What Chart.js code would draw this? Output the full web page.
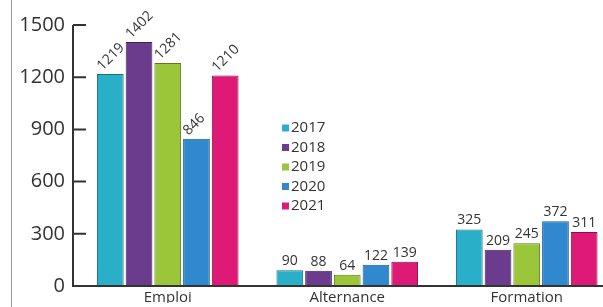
<!DOCTYPE html>
<html>
<head>
<meta charset="utf-8">
<script src="https://cdn.jsdelivr.net/npm/chart.js@4/dist/chart.umd.min.js"></script>
<style>
  html, body { margin: 0; padding: 0; background: #fff; overflow: hidden; }
  #wrap { position: relative; width: 603px; height: 307px; overflow: hidden; }
  #edge { position: absolute; left: 11px; top: 0; width: 1px; height: 307px; background: #9a9a9a; }
  canvas { position: absolute; left: 0; top: 0; }
</style>
</head>
<body>
<div id="wrap">
  <canvas id="chart" width="620" height="311"></canvas>
  <div id="edge"></div>
</div>
<script>
const categories = ['Emploi', 'Alternance', 'Formation'];
const years = ['2017', '2018', '2019', '2020', '2021'];
const values2017 = [1219, 90, 325];
const values2018 = [1402, 88, 209];
const values2019 = [1281, 64, 245];
const values2020 = [846, 122, 372];
const values2021 = [1210, 139, 311];
const yTicks = [0, 300, 600, 900, 1200, 1500];

const colors = ['#2aafc8', '#6b3b8e', '#9cc63a', '#3089cf', '#df1a76'];
const borders = ['#1d6f80', '#3e2254', '#5b7a20', '#1c5585', '#8a0f47'];
const series = [values2017, values2018, values2019, values2020, values2021];

const textColor = '#333';
const fontFamily = '"Open Sans", "Noto Sans", sans-serif';

// axes, inward ticks, bar values and the legend
const decorations = {
  id: 'decorations',
  afterDatasetsDraw(chart) {
    const ctx = chart.ctx;
    const y = chart.scales.y;
    const axisX = 73;
    ctx.save();
    ctx.strokeStyle = '#333';
    ctx.lineWidth = 2;
    ctx.beginPath();
    ctx.moveTo(axisX, y.getPixelForValue(1500));
    ctx.lineTo(axisX, y.getPixelForValue(0));
    ctx.lineTo(620, y.getPixelForValue(0));
    yTicks.forEach(t => {
      const py = y.getPixelForValue(t);
      ctx.moveTo(axisX, py);
      ctx.lineTo(axisX + 13, py);
    });
    ctx.stroke();

    // value labels
    ctx.fillStyle = textColor;
    ctx.font = '14px ' + fontFamily;
    chart.data.datasets.forEach((ds, i) => {
      chart.getDatasetMeta(i).data.forEach((bar, j) => {
        const txt = String(ds.data[j]);
        if (j === 0) {
          ctx.save();
          ctx.translate(bar.x - 8, bar.y - 3);
          ctx.rotate(-Math.PI / 4);
          ctx.textAlign = 'left';
          ctx.textBaseline = 'alphabetic';
          ctx.fillText(txt, 0, 0);
          ctx.restore();
        } else {
          ctx.textAlign = 'center';
          ctx.textBaseline = 'alphabetic';
          ctx.fillText(txt, bar.x, bar.y - 5);
        }
      });
    });

    // legend
    ctx.font = '15px ' + fontFamily;
    ctx.textAlign = 'left';
    ctx.textBaseline = 'middle';
    chart.data.datasets.forEach((ds, i) => {
      const cy = 128 + i * 19.5;
      ctx.fillStyle = ds.backgroundColor;
      ctx.fillRect(282, cy - 3.5, 7, 7);
      ctx.fillStyle = textColor;
      ctx.fillText(ds.label, 291, cy);
    });
    ctx.restore();
  }
};

new Chart(document.getElementById('chart'), {
  type: 'bar',
  data: {
    labels: categories,
    datasets: years.map((yr, i) => ({
      label: yr,
      data: series[i],
      backgroundColor: colors[i],
      borderColor: borders[i],
      borderWidth: 1,
      categoryPercentage: 0.8,
      barPercentage: 0.93
    }))
  },
  options: {
    responsive: false,
    animation: false,
    layout: { padding: { top: 25, right: 3.5, bottom: 0, left: 0 } },
    plugins: {
      legend: { display: false },
      tooltip: { enabled: false }
    },
    scales: {
      x: {
        grid: { display: false, drawTicks: false },
        border: { display: false },
        ticks: { color: textColor, font: { family: fontFamily, size: 15 }, padding: 3 },
        afterFit(scale) { scale.height = 17; }
      },
      y: {
        min: 0,
        max: 1500,
        afterBuildTicks(scale) { scale.ticks = yTicks.map(v => ({ value: v })); },
        grid: { display: false, drawTicks: false },
        border: { display: false },
        ticks: {
          color: textColor,
          font: { family: fontFamily, size: 20 },
          padding: 13,
          callback: v => String(v)
        },
        afterFit(scale) { scale.width = 78; }
      }
    }
  },
  plugins: [decorations]
});
</script>
</body>
</html>
